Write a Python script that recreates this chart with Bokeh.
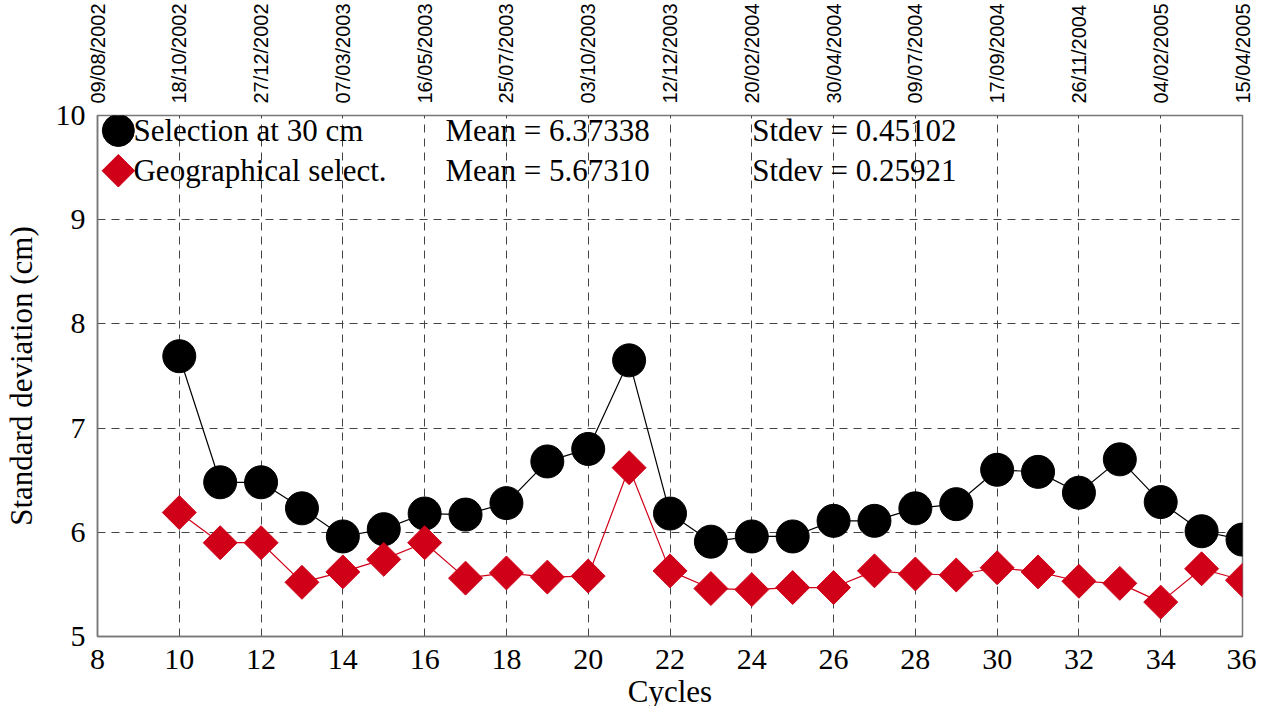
import math
from bokeh.plotting import figure
from bokeh.models import FixedTicker, LinearAxis, Label, Range1d
from bokeh.embed import file_html
from bokeh.resources import INLINE

# ---- data ----
cycles = list(range(10, 37))
sel_30cm = [7.69, 6.48, 6.48, 6.23, 5.96, 6.03, 6.18, 6.17, 6.28, 6.68, 6.80, 7.65,
            6.18, 5.91, 5.96, 5.96, 6.11, 6.11, 6.23, 6.27, 6.60, 6.58, 6.38, 6.70,
            6.29, 6.01, 5.93]
geo_sel = [6.19, 5.90, 5.90, 5.52, 5.62, 5.74, 5.90, 5.56, 5.61, 5.57, 5.58, 6.62,
           5.63, 5.46, 5.45, 5.47, 5.47, 5.63, 5.60, 5.59, 5.66, 5.62, 5.53, 5.51,
           5.33, 5.65, 5.54]
x_ticks = list(range(8, 37, 2))
y_ticks = [5, 6, 7, 8, 9, 10]
date_labels = ["09/08/2002", "18/10/2002", "27/12/2002", "07/03/2003", "16/05/2003",
               "25/07/2003", "03/10/2003", "12/12/2003", "20/02/2004", "30/04/2004",
               "09/07/2004", "17/09/2004", "26/11/2004", "04/02/2005", "15/04/2005"]
series_names = ["Selection at 30 cm", "Geographical select."]
mean_texts = ["Mean = 6.37338", "Mean = 5.67310"]
stdev_texts = ["Stdev = 0.45102", "Stdev = 0.25921"]

# ---- style ----
RED = "#d00018"
SERIF = "Liberation Serif"
SANS = "Liberation Sans"
GRID = "#444444"
FRAME = "#777777"

p = figure(frame_width=1145, frame_height=521,
           x_range=Range1d(8, 36), y_range=Range1d(5, 10),
           output_backend="svg", toolbar_location=None,
           min_border_left=97, min_border_top=100, min_border_right=14,
           min_border_bottom=5, background_fill_color="white",
           border_fill_color="white")
p.outline_line_color = FRAME
p.outline_line_width = 1.5

# axes
xa = p.xaxis[0]
xa.ticker = FixedTicker(ticks=x_ticks)
ya = p.yaxis[0]
ya.ticker = FixedTicker(ticks=y_ticks)
for ax in (xa, ya):
    ax.major_label_text_font = SERIF
    ax.major_label_text_font_size = "30px"
    ax.major_label_text_color = "black"
    ax.major_tick_line_color = None
    ax.minor_tick_line_color = None
    ax.axis_line_color = FRAME
    ax.axis_line_width = 1.5
    ax.axis_label_text_font = SERIF
    ax.axis_label_text_font_size = "31px"
    ax.axis_label_text_font_style = "normal"
    ax.axis_label_text_color = "black"
xa.axis_label = "Cycles"
xa.major_label_standoff = 7
xa.axis_label_standoff = 2
ya.axis_label = "Standard deviation (cm)"
ya.major_label_standoff = 6
ya.axis_label_standoff = 14

top = LinearAxis(ticker=FixedTicker(ticks=x_ticks),
                 major_label_overrides={t: d for t, d in zip(x_ticks, date_labels)},
                 major_label_orientation=math.pi / 2)
top.major_label_text_font = SANS
top.major_label_text_font_size = "20px"
top.major_label_text_color = "black"
top.major_label_standoff = 6
top.major_tick_line_color = None
top.minor_tick_line_color = None
top.axis_line_color = None
p.add_layout(top, "above")

# grid
p.xgrid.ticker = FixedTicker(ticks=x_ticks)
p.ygrid.ticker = FixedTicker(ticks=y_ticks)
for g in (p.xgrid, p.ygrid):
    g.grid_line_color = GRID
    g.grid_line_dash = "8 6"
    g.grid_line_width = 1

# series
p.line(cycles, sel_30cm, line_color="black", line_width=1.2)
p.line(cycles, geo_sel, line_color=RED, line_width=1.2)
p.scatter(cycles, sel_30cm, marker="circle", size=33, fill_color="black", line_color="black")
p.scatter(cycles, geo_sel, marker="square", size=24, angle=math.pi / 4,
          fill_color=RED, line_color=RED)

# legend block (keys + texts), positions are layout constants
KEY_X = 8.51
ROW_Y = [9.856, 9.47]
NAME_X = 8.88
MEAN_X = 16.51
STDEV_X = 24.01
p.scatter([KEY_X], [ROW_Y[0]], marker="circle", size=32, fill_color="black", line_color="black")
p.scatter([KEY_X], [ROW_Y[1]], marker="square", size=23, angle=math.pi / 4,
          fill_color=RED, line_color=RED)
for i in range(2):
    for xx, txt in ((NAME_X, series_names[i]), (MEAN_X, mean_texts[i]), (STDEV_X, stdev_texts[i])):
        p.add_layout(Label(x=xx, y=ROW_Y[i], text=txt, text_font=SERIF,
                           text_font_size="31px", text_baseline="middle",
                           text_align="left", text_color="black"))

open("out.html", "w").write(file_html(p, INLINE))
